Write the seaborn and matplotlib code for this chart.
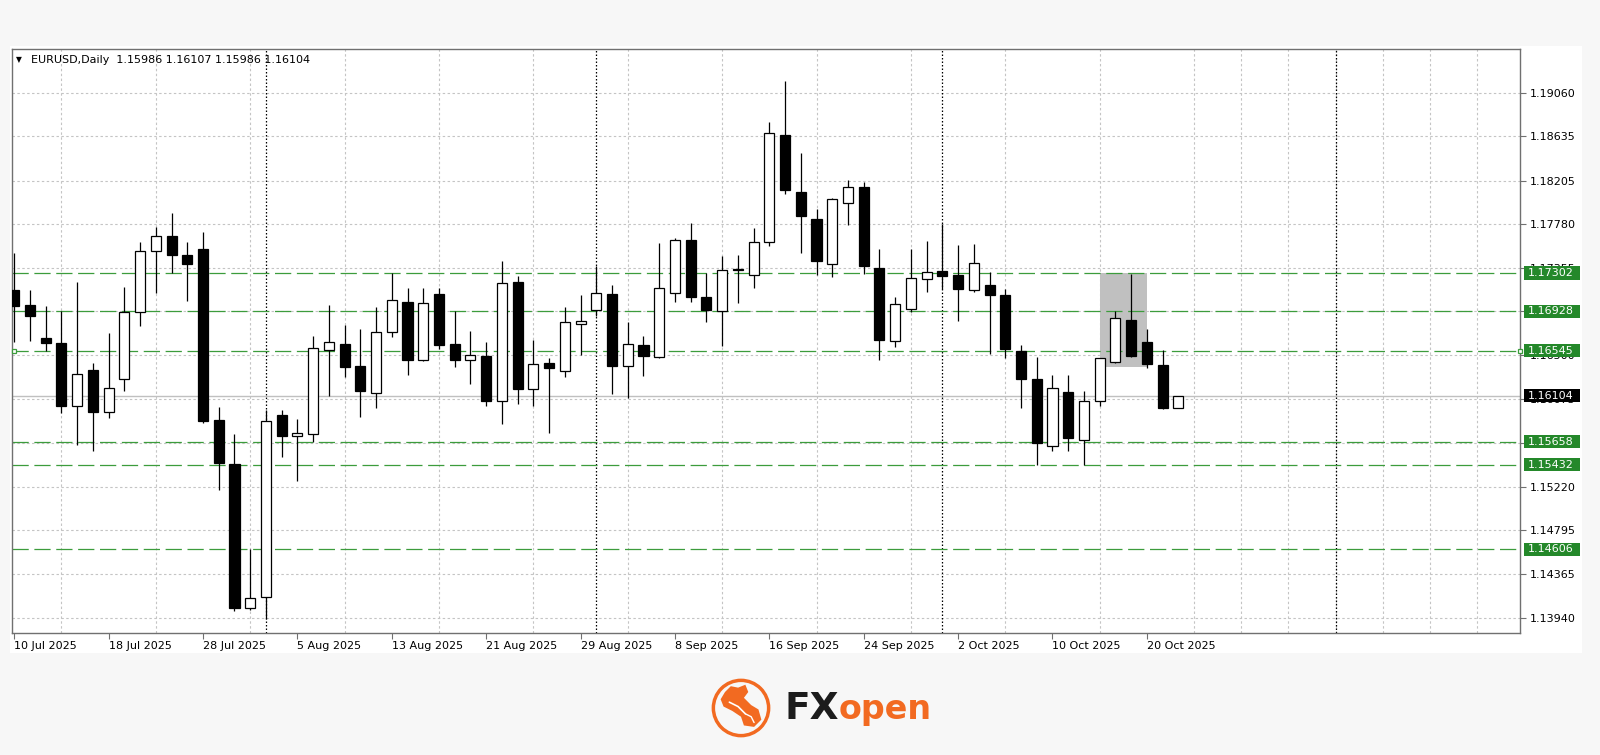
import numpy as np
import pandas as pd
import matplotlib
matplotlib.use("Agg")
import matplotlib.pyplot as plt
import matplotlib.transforms as mtransforms
from matplotlib.patches import Rectangle, Circle, Polygon
import seaborn as sns

# ---------------- data ----------------
opens = [1.17140, 1.16987, 1.16667, 1.16622, 1.16004, 1.16357, 1.15947, 1.16268, 1.16920, 1.17520,
         1.17662, 1.17476, 1.17535, 1.15869, 1.15444, 1.14035, 1.14139, 1.15914, 1.15712, 1.15731,
         1.16551, 1.16614, 1.16398, 1.16134, 1.16726, 1.17021, 1.16458, 1.17095, 1.16607, 1.16450,
         1.16491, 1.16055, 1.17215, 1.16171, 1.16421, 1.16342, 1.16801, 1.16939, 1.17095, 1.16394,
         1.16600, 1.16480, 1.17110, 1.17625, 1.17066, 1.16935, 1.17338, 1.17285, 1.17606, 1.18646,
         1.18091, 1.17830, 1.17390, 1.17986, 1.18143, 1.17349, 1.16641, 1.16950, 1.17248, 1.17323,
         1.17282, 1.17133, 1.17185, 1.17084, 1.16544, 1.16268, 1.15619, 1.16145, 1.15675, 1.16055,
         1.16439, 1.16842, 1.16626, 1.16409, 1.15986]
highs = [1.17494, 1.17136, 1.16980, 1.16928, 1.17215, 1.16421, 1.16719, 1.17162, 1.17606, 1.17751,
         1.17886, 1.17606, 1.17699, 1.15992, 1.15731, 1.14612, 1.15966, 1.15969, 1.15880, 1.16689,
         1.16991, 1.16793, 1.16756, 1.16972, 1.17304, 1.17155, 1.17155, 1.17155, 1.16931, 1.16737,
         1.16626, 1.17423, 1.17278, 1.16652, 1.16477, 1.16972, 1.17092, 1.17371, 1.17185, 1.16823,
         1.16689, 1.17595, 1.17643, 1.17792, 1.17300, 1.17464, 1.17476, 1.17744, 1.18780, 1.19179,
         1.18471, 1.17927, 1.18030, 1.18206, 1.18191, 1.17535, 1.17066, 1.17535, 1.17613, 1.17781,
         1.17580, 1.17587, 1.17312, 1.17147, 1.16600, 1.16484, 1.16309, 1.16305, 1.16149, 1.16475,
         1.16931, 1.17289, 1.16756, 1.16551, 1.16107]
lows = [1.16626, 1.16644, 1.16544, 1.15936, 1.15627, 1.15571, 1.15891, 1.16148, 1.16790, 1.17103,
        1.17300, 1.17028, 1.15843, 1.15190, 1.14009, 1.14016, 1.13923, 1.15507, 1.15276, 1.15656,
        1.16104, 1.16290, 1.15899, 1.15984, 1.16682, 1.16309, 1.16440, 1.16566, 1.16383, 1.16223,
        1.16010, 1.15832, 1.16029, 1.16010, 1.15742, 1.16290, 1.16506, 1.16887, 1.16122, 1.16085,
        1.16301, 1.16469, 1.17024, 1.17024, 1.16823, 1.16588, 1.17010, 1.17159, 1.17569, 1.18072,
        1.17498, 1.17285, 1.17259, 1.17770, 1.17289, 1.16458, 1.16577, 1.16924, 1.17118, 1.17147,
        1.16831, 1.17118, 1.16514, 1.16469, 1.15984, 1.15425, 1.15571, 1.15571, 1.15433, 1.16010,
        1.16421, 1.16484, 1.16372, 1.15973, 1.15986]
closes = [1.16980, 1.16887, 1.16622, 1.16004, 1.16320, 1.15947, 1.16178, 1.16920, 1.17520, 1.17666,
          1.17476, 1.17386, 1.15861, 1.15451, 1.14035, 1.14135, 1.15861, 1.15712, 1.15742, 1.16570,
          1.16626, 1.16383, 1.16156, 1.16730, 1.17036, 1.16458, 1.17006, 1.16603, 1.16458, 1.16506,
          1.16055, 1.17207, 1.16171, 1.16413, 1.16380, 1.16823, 1.16834, 1.17107, 1.16394, 1.16614,
          1.16491, 1.17155, 1.17625, 1.17069, 1.16939, 1.17334, 1.17330, 1.17606, 1.18665, 1.18117,
          1.17856, 1.17416, 1.18020, 1.18143, 1.17371, 1.16652, 1.16998, 1.17256, 1.17315, 1.17274,
          1.17144, 1.17405, 1.17084, 1.16562, 1.16264, 1.15645, 1.16178, 1.15694, 1.16059, 1.16469,
          1.16864, 1.16495, 1.16413, 1.15984, 1.16104]

tick_bars = [0, 6, 12, 18, 24, 30, 36, 42, 48, 54, 60, 66, 72]
tick_labels = ["10 Jul 2025", "18 Jul 2025", "28 Jul 2025", "5 Aug 2025", "13 Aug 2025",
               "21 Aug 2025", "29 Aug 2025", "8 Sep 2025", "16 Sep 2025", "24 Sep 2025",
               "2 Oct 2025", "10 Oct 2025", "20 Oct 2025"]
price_ticks = [1.13940, 1.14365, 1.14795, 1.15220, 1.15645, 1.16075, 1.16500,
               1.16930, 1.17355, 1.17780, 1.18205, 1.18635, 1.19060]
level_prices = [1.17302, 1.16928, 1.16545, 1.15658, 1.15432, 1.14606]
current_price = 1.16104
zone_bars = [69, 72]
zone_prices = [1.16383, 1.17302]
separator_bars = [16, 37, 59, 84]
header = "EURUSD,Daily  1.15986 1.16107 1.15986 1.16104"

# ---------------- style ----------------
sns.set_theme(style="white")
plt.rcParams['font.family'] = ['DejaVu Sans']

W, H = 1600, 755
fig = plt.figure(figsize=(16, 7.55), dpi=100)
fig.patch.set_facecolor('#f7f7f7')
fig.add_artist(Rectangle((10 / W, 1 - 653 / H), (1582 - 10) / W, (653 - 46) / H,
                         transform=fig.transFigure, facecolor='white', edgecolor='none', zorder=-5))

ax = fig.add_axes([12.2 / W, 1 - 633 / H, (1520 - 12.2) / W, (633 - 49) / H])
ax.set_facecolor('white')

df = pd.DataFrame({"bar": np.arange(len(opens)), "open": opens, "high": highs,
                   "low": lows, "close": closes})
df["up"] = df["close"] >= df["open"]
df["bottom"] = df[["open", "close"]].min(axis=1)
df["height"] = (df["close"] - df["open"]).abs()

# zone rectangle
ax.add_patch(Rectangle((zone_bars[0], zone_prices[0]), zone_bars[1] - zone_bars[0],
                       zone_prices[1] - zone_prices[0], facecolor='#c0c0c0',
                       edgecolor='none', zorder=1))

# grid
ax.set_yticks(price_ticks)
ax.set_yticklabels([f"{p:.5f}" for p in price_ticks])
ax.set_xticks(tick_bars)
ax.set_xticklabels(tick_labels)
ax.set_xticks(np.arange(0, 97, 3), minor=True)
ax.grid(which='major', axis='y', color='#c4c4c4', linestyle=(0, (2.2, 2.2)), lw=0.8, zorder=0)
ax.grid(which='minor', axis='x', color='#c4c4c4', linestyle=(0, (2.2, 2.2)), lw=0.8, zorder=0)
ax.set_axisbelow(True)

# month separators
for b in separator_bars:
    ax.axvline(b, color='black', lw=0.9, linestyle=(0, (1.2, 1.6)), zorder=1.5)

# current price line and levels
ax.axhline(current_price, color='#c0c0c0', lw=1.0, zorder=1.6)
for p in level_prices:
    ax.axhline(p, color='#3c9c3c', lw=0.9, dashes=(13, 4.5), zorder=1.7)
ax.plot([0.0, 95.7], [1.16545, 1.16545], linestyle='none', marker='s', ms=3.2,
        mfc='white', mec='#3c9c3c', mew=0.9, clip_on=False, zorder=6)

# candles
ax.vlines(df["bar"], df["low"], df["high"], color='black', lw=0.9, zorder=3)
ax.bar(df["bar"], df["height"], bottom=df["bottom"], width=0.64,
       color=np.where(df["up"], 'white', 'black'), edgecolor='black', linewidth=0.9, zorder=4)

ax.set_xlim(-0.13, 95.72)
ax.set_ylim(1.13791, 1.19488)

# axes styling
for s in ax.spines.values():
    s.set_color('#707070')
    s.set_linewidth(1.0)
ax.yaxis.tick_right()
ax.tick_params(axis='y', which='major', direction='out', length=4, width=0.8, color='#707070',
               pad=3, labelsize=8, labelcolor='black', left=False, right=True)
ax.tick_params(axis='x', which='major', direction='out', length=4, width=0.8, color='#707070',
               pad=1.5, labelsize=8, labelcolor='black', bottom=True)
ax.tick_params(axis='x', which='minor', length=0)
for lbl in ax.get_xticklabels():
    lbl.set_horizontalalignment('left')

# right price labels (boxes drawn in figure-x / data-y coordinates)
tr = mtransforms.blended_transform_factory(fig.transFigure, ax.transData)
px_per_price = (633 - 49) / (1.19488 - 1.13791)
half_h = 6.6 / px_per_price
box_x0, box_w = 1523.5 / W, (1580 - 1523.5) / W


def price_label(p, fc):
    ax.add_patch(Rectangle((box_x0, p - half_h), box_w, 2 * half_h, transform=tr,
                           facecolor=fc, edgecolor='none', clip_on=False, zorder=9))
    ax.text(1527.5 / W, p, f"{p:.5f}", transform=tr, color='white', fontsize=8,
            va='center', ha='left', clip_on=False, zorder=10)


for p in level_prices:
    price_label(p, '#24882a')
price_label(current_price, 'black')

# header
fig.text(18.5 / W, 1 - 59.5 / H, '\u25BC', fontsize=5.5, color='black', ha='center', va='center')
fig.text(31 / W, 1 - 60 / H, header, fontsize=8, color='black', ha='left', va='center')

# logo
orange = '#f26a21'
fig.text(839 / W, 1 - 719 / H, 'FX', fontsize=27, weight='heavy', color='#1c1c1c',
         ha='right', va='baseline')
fig.text(839 / W, 1 - 719 / H, 'open', fontsize=24, weight='heavy', color=orange,
         ha='left', va='baseline')
lax = fig.add_axes([(741 - 32) / W, 1 - (708 + 32) / H, 64 / W, 64 / H])
lax.set_xlim(-1.1, 1.1)
lax.set_ylim(-1.1, 1.1)
lax.set_aspect('equal')
lax.axis('off')
lax.add_patch(Circle((0, 0), 0.95, fill=False, ec=orange, lw=2.5))
lax.add_patch(Polygon([(-0.55, 0.55), (-0.35, 0.75), (-0.1, 0.7), (0.15, 0.8), (0.25, 0.55),
                       (0.1, 0.35), (0.35, 0.1), (0.6, -0.05), (0.7, -0.4), (0.45, -0.65),
                       (0.1, -0.6), (0.0, -0.3), (-0.3, -0.1), (-0.6, 0.05), (-0.7, 0.3)],
                      closed=True, fc=orange, ec='none'))
lax.plot([-0.4, -0.1, 0.15], [0.2, 0.05, -0.2], color='white', lw=1.2)
lax.plot([0.15, 0.35, 0.45], [-0.2, -0.3, -0.5], color='white', lw=1.0)

fig.savefig('out.png', dpi=100, facecolor=fig.get_facecolor())
